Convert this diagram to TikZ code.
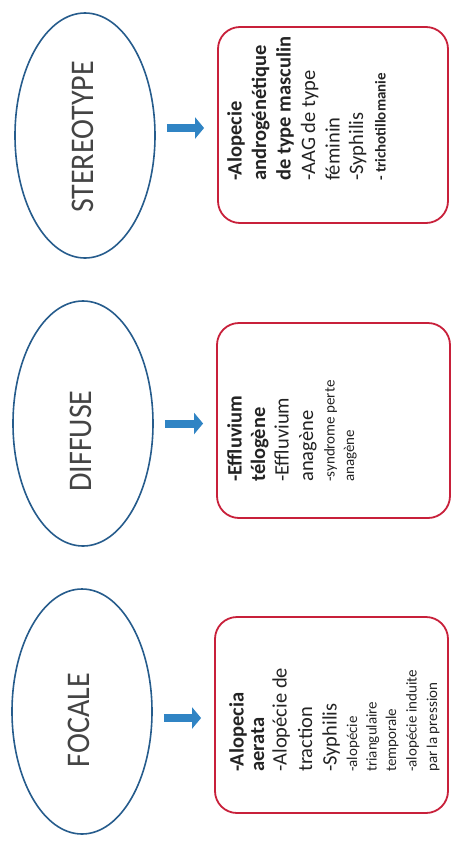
\documentclass[tikz,border=0pt]{standalone}
\usepackage{fontspec}
\setmainfont{Carlito}
\newfontfamily\condfont[FakeStretch=0.91]{Carlito}
\usetikzlibrary{arrows.meta,shapes.geometric}
\definecolor{ovalblue}{RGB}{38,92,140}
\definecolor{boxred}{RGB}{200,32,58}
\definecolor{arrowblue}{RGB}{48,132,196}
\definecolor{inkgray}{RGB}{35,35,35}
\newcommand\smalltxt{\fontsize{15}{19}\selectfont}

\begin{document}
\begin{tikzpicture}[
    x=1pt, y=-1pt,
    oval/.style={draw=ovalblue, line width=1.6pt, ellipse, minimum width=140pt, minimum height=245pt, inner sep=0pt},
    ovallabel/.style={rotate=90, inner sep=0pt, text=inkgray!85, font=\condfont\fontsize{33}{36}\selectfont},
    box/.style={draw=boxred, line width=1.8pt, rounded corners=22pt, minimum height=196pt, inner sep=0pt},
    list/.style={rotate=90, anchor=north west, inner sep=0pt, align=left, text=inkgray, font=\fontsize{20.5}{24.5}\selectfont},
    flow/.style={draw=arrowblue, line width=8pt, -{Triangle[length=9pt,width=21pt]}, shorten <=11pt, shorten >=13pt}
]
\useasboundingbox (0,0) rectangle (453,849);

\node[oval] (stereo) at (85,135.5) {};
\node[oval] (diffuse) at (83,423.5) {};
\node[oval] (focale) at (82,711.5) {};
\node[ovallabel] (stereolbl) at (82.5,137) {STEREOTYPE};
\node[ovallabel] (diffuselbl) at (81,441) {DIFFUSE};
\node[ovallabel] (focalelbl) at (79,720) {FOCALE};

\node[box, minimum width=230pt] (stereobox) at (333,125) {};
\node[box, minimum width=233pt, minimum height=195pt] (diffusebox) at (333.5,420.5) {};
\node[box, minimum width=233pt] (focalebox) at (331.5,715) {};

\node[list] (stereotxt) at (227,181) {{\bfseries -Alopecie}\\
{\bfseries androgénétique}\\
{\bfseries de type masculin}\\
-AAG de type\\
féminin\\[-1pt]
-Syphilis\\[-2pt]
{\smalltxt\bfseries - trichotillomanie}};

\node[list] (diffusetxt) at (227,482) {{\bfseries -Effluvium}\\[-1pt]
{\bfseries télogène}\\[-1pt]
-Effluvium\\
anagène\\[-3pt]
{\smalltxt -syndrome perte}\\[-5pt]
{\smalltxt anagène}};

\node[list] (focaletxt) at (229,772) {{\bfseries -Alopecia}\\[-4pt]
{\bfseries aerata}\\[-2pt]
-Alopécie de\\[1pt]
traction\\
-Syphilis\\[-4pt]
{\smalltxt -alopécie}\\[-5pt]
{\smalltxt triangulaire}\\[-5pt]
{\smalltxt temporale}\\[-4pt]
{\smalltxt -alopécie induite}\\[-4pt]
{\smalltxt par la pression}};

\draw[flow] ([yshift=-3pt]stereobox.west -| stereo.east) -- ([yshift=-3pt]stereobox.west);
\draw[flow] ([yshift=-3pt]diffusebox.west -| diffuse.east) -- ([yshift=-3pt]diffusebox.west);
\draw[flow] ([yshift=-3pt]focalebox.west -| focale.east) -- ([yshift=-3pt]focalebox.west);
\end{tikzpicture}
\end{document}
